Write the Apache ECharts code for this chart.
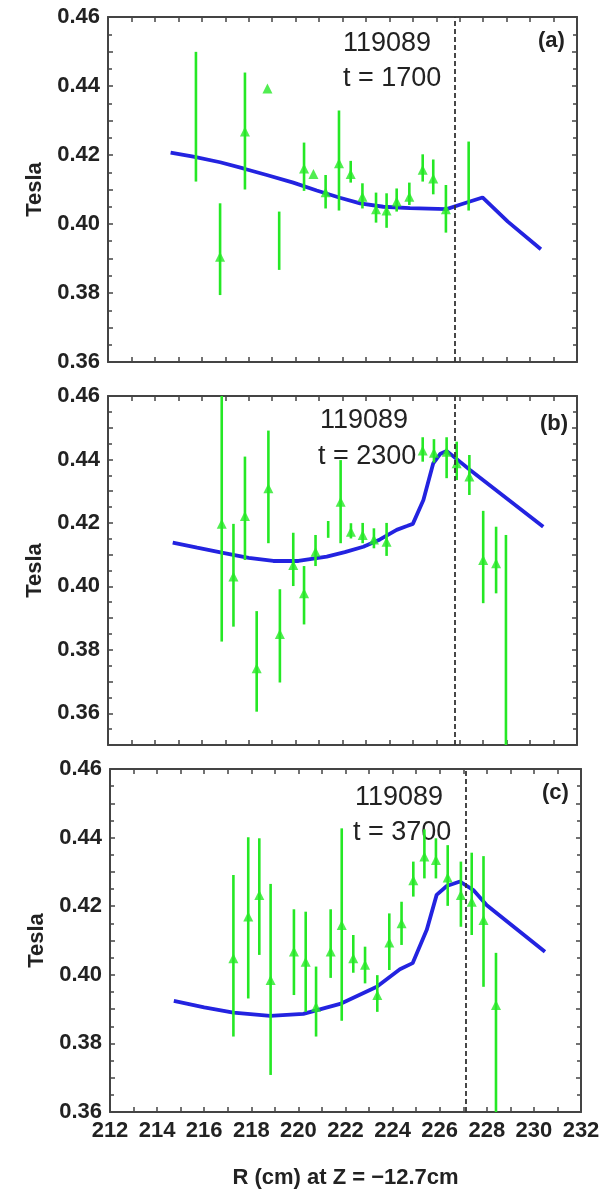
<!DOCTYPE html>
<html>
<head>
<meta charset="utf-8">
<script src="https://cdn.jsdelivr.net/npm/echarts@6.0.0/dist/echarts.min.js"></script>
<style>
html, body { margin: 0; padding: 0; background: #fff; }
#chart { width: 613px; height: 1192px; }
</style>
</head>
<body>
<div id="chart"></div>
<script>
// panel (a) t = 1700 : measured points (null = not drawn)
var aR   = [215.75, 216.78, 217.84, 218.80, 219.30, 220.36, 220.76, 221.28, 221.85, 222.35, 222.85, 223.43, 223.88, 224.31, 224.85, 225.42, 225.87, 226.41, 227.38];
var aVal = [null, 0.3905, 0.4268, 0.4393, null, 0.4161, 0.4145, 0.4092, 0.4176, 0.4145, 0.4079, 0.4043, 0.4039, 0.4065, 0.4079, 0.4157, 0.4132, 0.4043, null];
var aLo  = [0.4123, 0.3794, 0.4100, null, 0.3867, 0.4096, null, 0.4045, 0.4039, 0.4120, 0.4045, 0.4004, 0.3989, 0.4036, 0.4055, 0.4123, 0.4086, 0.3975, 0.4039];
var aHi  = [0.4499, 0.4060, 0.4439, null, 0.4036, 0.4236, null, 0.4142, 0.4329, 0.4183, 0.4118, 0.4091, 0.4089, 0.4103, 0.4120, 0.4202, 0.4187, 0.4113, 0.4239];
// panel (a) model curve
var aLineR = [214.67, 215.64, 216.78, 217.77, 218.77, 219.90, 220.90, 221.89, 222.75, 223.74, 224.88, 226.44, 226.97, 227.97, 229.05, 230.46];
var aLineB = [0.4207, 0.4195, 0.4179, 0.4161, 0.4142, 0.4120, 0.4097, 0.4076, 0.4060, 0.4050, 0.4046, 0.4043, 0.4055, 0.4077, 0.4007, 0.3927];
var aDash = 226.8;

// panel (b) t = 2300
var bR   = [216.85, 217.35, 217.84, 218.34, 218.84, 219.33, 219.90, 220.36, 220.85, 221.39, 221.92, 222.36, 222.86, 223.34, 223.88, 225.42, 225.90, 226.44, 226.87, 227.41, 228.00, 228.55, 228.97];
var bVal = [0.4197, 0.4031, 0.4222, 0.3742, 0.4309, 0.3850, 0.4067, 0.3978, 0.4109, null, 0.4267, 0.4172, 0.4162, 0.4148, 0.4141, 0.4428, 0.4421, 0.4424, 0.4388, 0.4346, 0.4083, 0.4073, null];
var bLo  = [0.3826, 0.3873, 0.4083, 0.3605, 0.4136, 0.3697, 0.4001, 0.3880, 0.4064, 0.4153, 0.4136, 0.4151, 0.4136, 0.4120, 0.4096, 0.4393, 0.4390, 0.4341, 0.4335, 0.4288, 0.3947, 0.3978, 0.3400];
var bHi  = [0.4610, 0.4197, 0.4409, 0.3922, 0.4491, 0.3991, 0.4169, 0.4064, 0.4162, 0.4206, 0.4398, 0.4199, 0.4200, 0.4183, 0.4200, 0.4470, 0.4464, 0.4470, 0.4456, 0.4414, 0.4238, 0.4188, 0.4162];
var bLineR = [214.76, 215.80, 216.85, 218.00, 219.05, 220.12, 221.33, 222.10, 222.89, 223.60, 224.31, 224.75, 225.00, 225.45, 225.87, 226.16, 226.44, 227.44, 230.56];
var bLineB = [0.4138, 0.4122, 0.4106, 0.4090, 0.4080, 0.4080, 0.4094, 0.4108, 0.4125, 0.4148, 0.4178, 0.4190, 0.4197, 0.4272, 0.4388, 0.4417, 0.4427, 0.4367, 0.4188];
var bDash = 226.8;

// panel (c) t = 3700
var cR   = [217.24, 217.87, 218.34, 218.82, 219.81, 220.31, 220.75, 221.37, 221.84, 222.33, 222.83, 223.35, 223.86, 224.38, 224.88, 225.35, 225.84, 226.34, 226.90, 227.36, 227.86, 228.39];
var cVal = [0.4048, 0.4170, 0.4233, 0.3985, 0.4068, 0.4038, 0.3907, 0.4068, 0.4145, 0.4048, 0.4029, 0.3941, 0.4094, 0.4150, 0.4276, 0.4345, 0.4335, 0.4284, 0.4233, 0.4213, 0.4160, 0.3912];
var cLo  = [0.3820, 0.3931, 0.4058, 0.3708, 0.3941, 0.3892, 0.3820, 0.3991, 0.3866, 0.4006, 0.3975, 0.3892, 0.4014, 0.4087, 0.4228, 0.4281, 0.4281, 0.4201, 0.4140, 0.4116, 0.3965, 0.3580];
var cHi  = [0.4291, 0.4401, 0.4398, 0.4265, 0.4191, 0.4184, 0.4024, 0.4191, 0.4427, 0.4116, 0.4082, 0.3999, 0.4179, 0.4213, 0.4330, 0.4424, 0.4398, 0.4378, 0.4330, 0.4356, 0.4346, 0.4064];
var cLineR = [214.71, 216.00, 217.24, 218.80, 220.21, 221.77, 223.33, 224.31, 224.85, 225.45, 225.87, 226.30, 226.86, 227.43, 228.00, 230.47];
var cLineB = [0.3924, 0.3905, 0.3890, 0.3880, 0.3886, 0.3915, 0.3965, 0.4016, 0.4034, 0.4131, 0.4233, 0.4259, 0.4272, 0.4247, 0.4203, 0.4067];
var cDash = 227.1;

var panelLabels = ['(a)', '(b)', '(c)'];
var shotText = ['119089', '119089', '119089'];
var timeText = ['t = 1700', 't = 2300', 't = 3700'];
var yMins = [0.36, 0.35, 0.36];

var green = '#25e825';
var blue = '#2323e0';
var frame = '#444';
var txt = '#222';

var grids = [
    {left: 108, right: 36, top: 17, height: 345},
    {left: 108, right: 36, top: 396, height: 349},
    {left: 110, right: 32, top: 769, height: 343}
];

function pairs(xs, ys) {
    var out = [];
    for (var i = 0; i < xs.length; i++) {
        if (ys[i] != null) out.push([xs[i], ys[i]]);
    }
    return out;
}

function bars(xs, lo, hi) {
    var out = [];
    for (var i = 0; i < xs.length; i++) {
        if (lo[i] != null) out.push([xs[i], lo[i], hi[i]]);
    }
    return out;
}

function renderBar(params, api) {
    var p1 = api.coord([api.value(0), api.value(1)]);
    var p2 = api.coord([api.value(0), api.value(2)]);
    return {
        type: 'line',
        shape: {x1: p1[0], y1: p1[1], x2: p2[0], y2: p2[1]},
        style: {stroke: green, lineWidth: 2.6}
    };
}

var tickStyle = {color: frame, width: 1.5};

function xAxes(gi, showLabels) {
    var bottom = {
        gridIndex: gi, type: 'value', min: 212, max: 232, interval: 2, position: 'bottom',
        axisLine: {show: true, onZero: false, lineStyle: {color: frame, width: 2}},
        axisTick: {inside: true, length: 5, lineStyle: tickStyle},
        minorTick: {show: true, splitNumber: 2, length: 5, lineStyle: tickStyle},
        splitLine: {show: false},
        axisLabel: {show: showLabels, margin: 8, color: txt, fontSize: 22, fontWeight: 'bold', fontFamily: 'Liberation Sans'}
    };
    if (showLabels) {
        bottom.name = 'R (cm) at Z = \u221212.7cm';
        bottom.nameLocation = 'middle';
        bottom.nameGap = 55;
        bottom.nameTextStyle = {color: txt, fontSize: 22, fontWeight: 'bold', fontFamily: 'Liberation Sans'};
    }
    var top = {
        gridIndex: gi, type: 'value', min: 212, max: 232, interval: 2, position: 'top',
        axisLine: {show: true, onZero: false, lineStyle: {color: frame, width: 2}},
        axisTick: {inside: true, length: 5, lineStyle: tickStyle},
        minorTick: {show: true, splitNumber: 2, length: 5, lineStyle: tickStyle},
        splitLine: {show: false},
        axisLabel: {show: false}
    };
    return [bottom, top];
}

function fmtY(v) {
    var k = Math.round(v * 100);
    return k % 2 === 0 ? (k / 100).toFixed(2) : '';
}

function yAxes(gi, min) {
    var left = {
        gridIndex: gi, type: 'value', min: min, max: 0.46, interval: 0.01, position: 'left',
        name: 'Tesla', nameLocation: 'middle', nameGap: 58,
        nameTextStyle: {color: txt, fontSize: 22, fontWeight: 'bold', fontFamily: 'Liberation Sans'},
        axisLine: {show: true, onZero: false, lineStyle: {color: frame, width: 2}},
        axisTick: {inside: true, length: 5, lineStyle: tickStyle},
        minorTick: {show: true, splitNumber: 2, length: 4, lineStyle: tickStyle},
        splitLine: {show: false},
        axisLabel: {formatter: fmtY, margin: 8, color: txt, fontSize: 22, fontWeight: 'bold', fontFamily: 'Liberation Sans'}
    };
    var right = {
        gridIndex: gi, type: 'value', min: min, max: 0.46, interval: 0.01, position: 'right',
        axisLine: {show: true, onZero: false, lineStyle: {color: frame, width: 2}},
        axisTick: {inside: true, length: 5, lineStyle: tickStyle},
        minorTick: {show: true, splitNumber: 2, length: 4, lineStyle: tickStyle},
        splitLine: {show: false},
        axisLabel: {show: false}
    };
    return [left, right];
}

var panels = [
    {R: aR, val: aVal, lo: aLo, hi: aHi, lineR: aLineR, lineB: aLineB, dash: aDash},
    {R: bR, val: bVal, lo: bLo, hi: bHi, lineR: bLineR, lineB: bLineB, dash: bDash},
    {R: cR, val: cVal, lo: cLo, hi: cHi, lineR: cLineR, lineB: cLineB, dash: cDash}
];

var xAxisList = [], yAxisList = [], seriesList = [], graphicList = [];
var textTops = [[30, 65], [407, 443], [784, 819]];
var textLefts = [[343, 343], [320, 318], [355, 353]];
var labelPos = [[538, 30], [540, 413], [542, 782]];

for (var g = 0; g < 3; g++) {
    xAxisList = xAxisList.concat(xAxes(g, g === 2));
    yAxisList = yAxisList.concat(yAxes(g, yMins[g]));
    var p = panels[g];
    seriesList.push({
        type: 'line', xAxisIndex: g * 2, yAxisIndex: g * 2,
        data: pairs(p.lineR, p.lineB), showSymbol: false, smooth: false, z: 2,
        lineStyle: {color: blue, width: 3.8},
        markLine: {
            symbol: 'none', silent: true, label: {show: false},
            lineStyle: {type: [5, 3], color: '#333', width: 1.8},
            data: [{xAxis: p.dash}]
        }
    });
    seriesList.push({
        type: 'custom', xAxisIndex: g * 2, yAxisIndex: g * 2, clip: true, z: 3,
        data: bars(p.R, p.lo, p.hi), renderItem: renderBar
    });
    seriesList.push({
        type: 'scatter', xAxisIndex: g * 2, yAxisIndex: g * 2, z: 4,
        data: pairs(p.R, p.val), symbol: 'triangle', symbolSize: 10,
        itemStyle: {color: green}
    });
    graphicList.push({type: 'text', left: textLefts[g][0], top: textTops[g][0],
        style: {text: shotText[g], font: '27px "Liberation Sans"', fill: txt}});
    graphicList.push({type: 'text', left: textLefts[g][1], top: textTops[g][1],
        style: {text: timeText[g], font: '27px "Liberation Sans"', fill: txt}});
    graphicList.push({type: 'text', left: labelPos[g][0], top: labelPos[g][1],
        style: {text: panelLabels[g], font: 'bold 22px "Liberation Sans"', fill: txt}});
}

var myChart = echarts.init(document.getElementById('chart'), null, {renderer: 'canvas'});
var option = {
    backgroundColor: '#fff',
    animation: false,
    grid: grids,
    xAxis: xAxisList,
    yAxis: yAxisList,
    series: seriesList,
    graphic: graphicList
};
myChart.setOption(option);
</script>
</body>
</html>
